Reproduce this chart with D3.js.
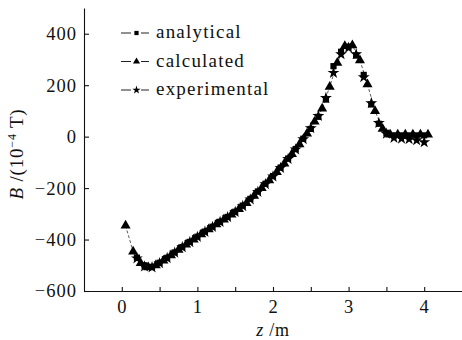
<!DOCTYPE html>
<html>
  <head>
    <meta charset="utf-8">
    <title>B along z</title>
    <script src="https://cdn.jsdelivr.net/npm/d3@7"></script>
    <style>
      body { margin: 0; background: #fff; }
      svg { display: block; }
    </style>
  </head>
  <body>
    <svg></svg>
    <script>
      // values, B in 10^-4 T, z in m
      let calcZ = [0.05, 0.15, 0.25, 0.35, 0.45, 0.55, 0.65, 0.75, 0.85, 0.95,
                   1.05, 1.15, 1.25, 1.35, 1.45, 1.55, 1.65, 1.75, 1.85, 1.95,
                   2.05, 2.15, 2.25, 2.35, 2.45, 2.55, 2.65, 2.75, 2.85, 2.95,
                   3.05, 3.15, 3.25, 3.35, 3.45, 3.55, 3.65, 3.75, 3.85, 3.95, 4.05];
      let calcB = [-346, -447, -492, -508, -500, -482, -461, -440, -420, -400,
                   -380, -360, -341, -322, -303, -282, -258, -230, -200, -170,
                   -138, -105, -68, -30, 12, 58, 109, 194, 287, 352,
                   355, 297, 203, 99, 30, 8, 8, 8, 8, 8, 8];

      let expZ = [0.2, 0.3, 0.4, 0.5, 0.6, 0.7, 0.8, 0.9, 1.0, 1.1,
                  1.2, 1.3, 1.4, 1.5, 1.6, 1.7, 1.8, 1.9, 2.0, 2.1,
                  2.2, 2.3, 2.4, 2.5, 2.6, 2.7, 2.8, 2.9, 3.0, 3.1,
                  3.2, 3.3, 3.4, 3.5, 3.6, 3.7, 3.8, 3.9, 4.0];
      let expB = [-473, -505, -508, -492, -472, -451, -430, -410, -390, -370,
                  -351, -332, -313, -293, -270, -244, -215, -185, -155, -122,
                  -87, -50, -10, 33, 80, 150, 248, 320, 345, 320,
                  231, 130, 53, 11, -5, -8, -10, -14, -22];

      let anaZ = [0.2, 0.3, 0.4, 0.5, 0.6, 0.7, 0.8, 0.9, 1.0, 1.1,
                  1.2, 1.3, 1.4, 1.5, 1.6, 1.7, 1.8, 1.9, 2.0, 2.1,
                  2.2, 2.3, 2.4, 2.5, 2.6, 2.7, 2.8, 2.9, 3.0, 3.1,
                  3.2, 3.3, 3.4, 3.5, 3.6, 3.7, 3.8, 3.9, 4.0];
      let anaB = [-470, -500, -506, -490, -471, -450, -429, -409, -389, -369,
                  -350, -331, -312, -292, -268, -242, -213, -183, -153, -120,
                  -85, -48, -8, 30, 77, 144, 274, 330, 350, 315,
                  240, 125, 50, 15, 5, 5, 5, 5, 5];

      let yTicks = [-600, -400, -200, 0, 200, 400];
      let xTicks = [0, 0.5, 1, 1.5, 2, 2.5, 3, 3.5, 4];
      let legendNames = ["analytical", "calculated", "experimental"];

      let w = 462, h = 340;
      let serif = "'Liberation Serif', 'Times New Roman', serif";

      let svg = d3.select("svg").attr("width", w).attr("height", h);

      let x = d3.scaleLinear().domain([-0.5, 4.5]).range([84, 462]);
      let y = d3.scaleLinear().domain([-600, 500]).range([291, 8]);

      // axes, ticks point inward
      svg.append("g")
        .attr("transform", "translate(0,291)")
        .call(d3.axisBottom(x).tickValues(xTicks).tickSizeInner(-4).tickSizeOuter(0)
          .tickPadding(9).tickFormat(d => Number.isInteger(d) ? d : ""));

      svg.append("g")
        .attr("transform", "translate(84,0)")
        .call(d3.axisLeft(y).tickValues(yTicks).tickSizeInner(-5).tickSizeOuter(0)
          .tickPadding(7).tickFormat(d => d < 0 ? "\u2212" + Math.abs(d) : d));

      svg.selectAll(".tick text")
         .attr("font-family", serif)
         .attr("font-size", 18.5)
         .attr("letter-spacing", 1)
         .attr("fill", "#111");
      svg.selectAll(".domain, .tick line").attr("stroke", "#111").attr("stroke-width", 1.1);

      // axis titles
      let yt = svg.append("text")
         .attr("transform", "translate(23,154) rotate(-90)")
         .attr("text-anchor", "middle")
         .attr("font-family", serif)
         .attr("font-size", 19)
         .attr("letter-spacing", 0.8)
         .attr("fill", "#111");
      yt.append("tspan").attr("font-style", "italic").text("B");
      yt.append("tspan").text(" /(10");
      yt.append("tspan").attr("font-size", 12).attr("dy", -7).text("\u22124");
      yt.append("tspan").attr("dy", 7).text(" T)");

      let xt = svg.append("text")
         .attr("x", 273).attr("y", 336)
         .attr("text-anchor", "middle")
         .attr("font-family", serif)
         .attr("font-size", 18)
         .attr("letter-spacing", 0.8)
         .attr("fill", "#111");
      xt.append("tspan").attr("font-style", "italic").text("z");
      xt.append("tspan").text(" /m");

      // dashed line through calculated points
      let calc = calcZ.map((z, i) => ({z: z, b: calcB[i]}));
      let exp = expZ.map((z, i) => ({z: z, b: expB[i]}));
      let ana = anaZ.map((z, i) => ({z: z, b: anaB[i]}));

      svg.append("path")
         .datum(calc)
         .attr("fill", "none")
         .attr("stroke", "#333")
         .attr("stroke-width", 0.8)
         .attr("stroke-dasharray", "3,2")
         .attr("d", d3.line().x(d => x(d.z)).y(d => y(d.b)));

      let symbols = [
        d3.symbol().type(d3.symbolSquare).size(38),
        d3.symbol().type(d3.symbolTriangle).size(44),
        d3.symbol().type(d3.symbolStar).size(44)
      ];

      [ana, calc, exp].forEach((data, k) => {
        svg.append("g").selectAll("path")
           .data(data)
           .enter()
           .append("path")
           .attr("transform", d => "translate(" + x(d.z) + "," + y(d.b) + ")")
           .attr("d", symbols[k])
           .attr("fill", "#000");
      });

      // legend
      let legendSymbols = [
        d3.symbol().type(d3.symbolSquare).size(18),
        d3.symbol().type(d3.symbolTriangle).size(22),
        d3.symbol().type(d3.symbolStar).size(22)
      ];

      let legend = svg.append("g").selectAll("g")
        .data(legendNames)
        .enter()
        .append("g")
        .attr("transform", (d, i) => "translate(0," + (38 + i * 28.5) + ")");

      legend.append("line")
        .attr("x1", 121).attr("x2", 131).attr("y1", -5).attr("y2", -5)
        .attr("stroke", "#222").attr("stroke-width", 1);
      legend.append("line")
        .attr("x1", 141).attr("x2", 149).attr("y1", -5).attr("y2", -5)
        .attr("stroke", "#222").attr("stroke-width", 1);
      legend.append("path")
        .attr("transform", "translate(136.5,-5)")
        .attr("d", (d, i) => legendSymbols[i]())
        .attr("fill", "#000");
      legend.append("text")
        .attr("x", 156)
        .attr("font-family", serif)
        .attr("font-size", 19)
        .attr("letter-spacing", 1.2)
        .attr("fill", "#111")
        .text(d => d);
    </script>
  </body>
</html>
